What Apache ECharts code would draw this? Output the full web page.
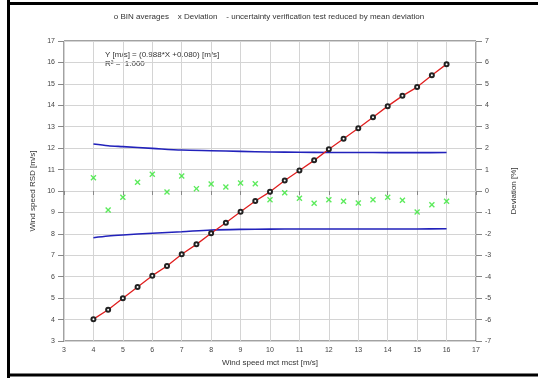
<!DOCTYPE html>
<html>
<head>
<meta charset="utf-8">
<script src="https://cdn.jsdelivr.net/npm/echarts@6/dist/echarts.min.js"></script>
<style>
html,body{margin:0;padding:0;background:#fff;}
#main{width:538px;height:378px;}
</style>
</head>
<body>
<div id="main"></div>
<script>
// BIN averages (x = wind speed mct mcst, y = wind speed RSD)
var binX = [4,4.5,5,5.5,6,6.5,7,7.5,8,8.5,9,9.5,10,10.5,11,11.5,12,12.5,13,13.5,14,14.5,15,15.5,16];
var binY = [4.02,4.46,4.99,5.52,6.05,6.50,7.05,7.51,8.03,8.52,9.03,9.53,9.96,10.49,10.96,11.43,11.95,12.44,12.93,13.44,13.96,14.44,14.85,15.40,15.92];
// deviation [%] per bin
var devY = [0.62,-0.89,-0.29,0.41,0.78,-0.05,0.70,0.11,0.33,0.19,0.37,0.34,-0.41,-0.08,-0.34,-0.57,-0.41,-0.48,-0.56,-0.41,-0.29,-0.43,-0.98,-0.64,-0.48];
// uncertainty band [%]
var bandX = [4,4.5,5,6,7,8,9,10,11,12,13,14,15,16];
var bandUp = [2.19,2.11,2.07,1.99,1.91,1.88,1.85,1.82,1.81,1.80,1.80,1.79,1.79,1.80];
var bandLo = [-2.18,-2.10,-2.05,-1.97,-1.90,-1.82,-1.79,-1.78,-1.77,-1.77,-1.77,-1.77,-1.77,-1.76];

function pairs(xs, ys){
    var out = [];
    for(var i=0;i<xs.length;i++){ out.push([xs[i], ys[i]]); }
    return out;
}

var crossPath = 'path://M0,1.6L1.6,0L5,3.4L8.4,0L10,1.6L6.6,5L10,8.4L8.4,10L5,6.6L1.6,10L0,8.4L3.4,5Z';
var lblFont = {fontFamily:'Liberation Sans', fontSize:7, color:'#444'};

var chart = echarts.init(document.getElementById('main'));
chart.setOption({
    animation:false,
    grid:{
        left:64, right:62, top:41, bottom:37,
        show:true, borderColor:'#444', borderWidth:1
    },
    graphic:[
        {type:'line', shape:{x1:8.5,y1:0,x2:8.5,y2:378}, style:{stroke:'#000',lineWidth:3}},
        {type:'line', shape:{x1:7,y1:3.5,x2:538,y2:3.5}, style:{stroke:'#000',lineWidth:3}},
        {type:'line', shape:{x1:7,y1:375,x2:538,y2:375}, style:{stroke:'#000',lineWidth:3}},
        {type:'text', left:'center', top:13,
            style:{text:'o BIN averages    x Deviation    - uncertainty verification test reduced by mean deviation',
                font:'8px "Liberation Sans"', fill:'#333'}},
        {type:'text', left:105, top:50,
            style:{text:'Y [m/s] = (0.988*X +0.080) [m/s]\nR\u00b2 =  1.000', font:'8px "Liberation Sans"', fill:'#333', lineHeight:9}}
    ],
    xAxis:{
        type:'value', min:3, max:17, interval:1,
        name:'Wind speed mct mcst [m/s]', nameLocation:'middle', nameGap:16,
        nameTextStyle:{fontFamily:'Liberation Sans', fontSize:8, color:'#333'},
        axisLine:{show:false},
        axisTick:{show:true, length:4, lineStyle:{color:'#888'}},
        axisLabel:Object.assign({margin:6}, lblFont),
        splitLine:{show:true, lineStyle:{color:'#d4d4d4', width:1}}
    },
    yAxis:[
        {
            type:'value', min:3, max:17, interval:1, position:'left',
            name:'Wind speed RSD [m/s]', nameLocation:'middle', nameGap:22,
            nameTextStyle:{fontFamily:'Liberation Sans', fontSize:8, color:'#333'},
            axisLine:{show:false},
            axisTick:{show:true, length:6, lineStyle:{color:'#888'}},
            axisLabel:Object.assign({margin:9}, lblFont),
            splitLine:{show:true, lineStyle:{color:'#d4d4d4', width:1}}
        },
        {
            type:'value', min:-7, max:7, interval:1, position:'right',
            name:'Deviation [%]', nameLocation:'middle', nameGap:34,
            nameTextStyle:{fontFamily:'Liberation Sans', fontSize:8, color:'#333'},
            axisLine:{show:false},
            axisTick:{show:true, length:6, lineStyle:{color:'#888'}},
            axisLabel:Object.assign({margin:9}, lblFont),
            splitLine:{show:false}
        }
    ],
    series:[
        {
            name:'upper', type:'line', yAxisIndex:1, smooth:0.3, symbol:'none',
            lineStyle:{color:'#2222bb', width:1.6},
            data:pairs(bandX, bandUp)
        },
        {
            name:'lower', type:'line', yAxisIndex:1, smooth:0.3, symbol:'none',
            lineStyle:{color:'#2222bb', width:1.6},
            data:pairs(bandX, bandLo)
        },
        {
            name:'Deviation', type:'scatter', yAxisIndex:1,
            symbol:crossPath, symbolSize:6,
            itemStyle:{color:'#33e633'},
            data:pairs(binX, devY)
        },
        {
            name:'BIN averages', type:'line', yAxisIndex:0,
            symbol:'emptyCircle', symbolSize:4, showAllSymbol:true,
            lineStyle:{color:'#e02020', width:1.3},
            itemStyle:{color:'#222', borderWidth:1.5},
            data:pairs(binX, binY), z:5
        }
    ]
});
</script>
</body>
</html>
